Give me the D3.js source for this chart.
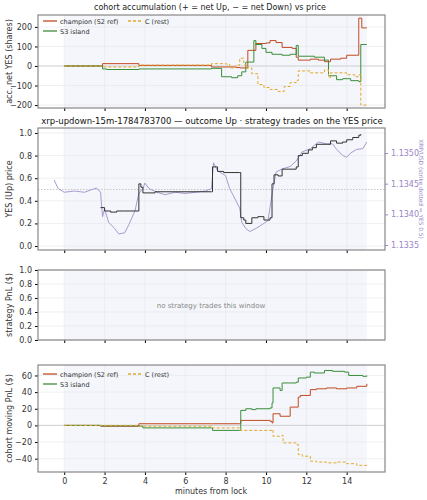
<!DOCTYPE html><html><head><meta charset="utf-8"><script src="https://cdn.jsdelivr.net/npm/d3@7"></script>
<style>body{margin:0;background:#fff}text{font-family:"DejaVu Sans",sans-serif}</style></head><body><svg id="c" width="427" height="500"></svg><script>
const xTicks=[0,2,4,6,8,10,12,14];
const accChampion=[[0,0],[1.9,12],[3.7,3],[7.3,-5],[8.5,-8],[8.7,-10],[9.1,80],[9.5,115],[10.0,118],[10.2,130],[10.5,120],[10.8,95],[11.3,90],[11.5,45],[11.6,30],[12.2,35],[12.6,30],[12.9,22],[13.2,35],[13.7,40],[14.0,55],[14.5,55],[14.6,245],[14.75,195],[15.0,195]];
const accS3=[[0,0],[1.9,-15],[2.1,-18],[3.7,-15],[7.3,-12],[7.8,-55],[8.3,-60],[8.6,-50],[8.8,-30],[9.0,20],[9.2,20],[9.4,130],[9.5,110],[9.8,90],[10.0,70],[10.3,60],[10.8,55],[11.2,60],[11.5,105],[11.6,50],[12.4,45],[12.9,30],[13.1,-50],[13.5,-70],[13.8,-65],[14.2,-75],[14.6,-80],[14.7,110],[15.0,110]];
const accC=[[0,0],[1.9,-5],[3.7,5],[7.3,12],[8.0,10],[8.2,-10],[8.5,5],[8.7,40],[8.9,5],[9.0,-10],[9.3,-40],[9.6,-95],[9.9,-110],[10.2,-120],[10.6,-130],[10.9,-105],[11.2,-85],[11.5,-75],[11.6,-25],[12.2,-35],[12.9,-20],[13.1,-60],[13.2,-35],[14.0,-45],[14.4,-55],[14.6,-45],[14.7,-200],[15.0,-200]];
const yesPrice=[[1.8,0.34],[2.0,0.31],[2.3,0.30],[2.6,0.31],[3.0,0.31],[3.7,0.55],[3.8,0.52],[3.9,0.47],[4.5,0.48],[7.3,0.48],[7.35,0.70],[7.6,0.66],[7.9,0.65],[8.7,0.65],[8.75,0.25],[8.9,0.23],[9.0,0.20],[9.3,0.25],[9.6,0.26],[9.9,0.23],[10.1,0.23],[10.2,0.25],[10.3,0.55],[10.4,0.63],[10.6,0.62],[10.8,0.68],[11.1,0.68],[11.5,0.70],[11.6,0.80],[11.8,0.82],[12.1,0.85],[12.3,0.87],[12.5,0.90],[13.0,0.90],[13.2,0.93],[13.5,0.91],[13.8,0.92],[14.0,0.94],[14.3,0.96],[14.6,0.98],[14.7,0.99]];
const xrpPrice=[[-0.5,1.13456],[-0.3,1.13442],[0,1.13436],[0.5,1.13438],[1.0,1.13436],[1.6,1.13443],[1.8,1.13436],[1.9,1.13396],[2.0,1.13409],[2.2,1.13387],[2.5,1.13377],[2.7,1.13368],[3.0,1.13370],[3.2,1.13383],[3.5,1.13405],[3.7,1.13434],[3.9,1.13442],[4.0,1.13451],[4.2,1.13442],[4.6,1.13436],[5.0,1.13432],[5.5,1.13436],[6.0,1.13434],[6.5,1.13436],[7.0,1.13438],[7.3,1.13442],[7.4,1.13484],[7.6,1.13471],[8.0,1.13463],[8.2,1.13442],[8.5,1.13423],[8.7,1.13410],[8.8,1.13387],[9.0,1.13377],[9.2,1.13372],[9.5,1.13377],[9.8,1.13383],[10.1,1.13390],[10.3,1.13432],[10.5,1.13469],[10.8,1.13474],[11.2,1.13478],[11.5,1.13487],[11.8,1.13502],[12.2,1.13507],[12.6,1.13518],[13.0,1.13515],[13.3,1.13515],[13.5,1.13506],[13.8,1.13496],[14.0,1.13493],[14.2,1.13500],[14.5,1.13506],[14.8,1.13507],[15.0,1.13518]];
const pnlChampion=[[0,0],[1.8,-1],[3.7,2],[7.3,2],[8.7,2],[8.75,6],[10.2,5],[10.3,3],[10.35,14],[10.7,11],[11.2,22],[11.6,34],[11.7,36],[12.2,43],[12.5,44],[13.0,45],[13.5,44],[14.0,45],[14.5,47],[15.0,50]];
const pnlS3=[[0,0],[1.8,-0.5],[3.7,-1],[3.9,-3],[7.3,-3],[7.35,-6],[8.7,-6],[8.75,18],[9.0,20],[9.3,19],[9.5,20],[10.0,20],[10.2,21],[10.3,27],[10.35,45],[10.7,42],[10.8,51],[11.5,52],[11.6,57],[12.0,58],[12.2,64],[12.4,63],[12.9,66],[13.3,65],[13.9,64],[14.1,60],[14.8,59],[15.0,60]];
const pnlC=[[0,0],[1.8,0],[3.7,-1],[7.3,-3],[8.75,-6],[10.3,-5],[10.35,-13],[10.8,-12],[10.85,-21],[11.5,-23],[11.6,-35],[11.8,-37],[12.2,-43],[12.5,-44],[13.0,-45],[13.5,-44],[14.0,-46],[14.5,-48],[15.0,-49]];
const COL={ch:"#c24a22",s3:"#3a8e3a",c:"#e3a82c",yes:"#333",xrp:"#a99ad0"};
const svg=d3.select("#c");
const x=d3.scaleLinear().domain([-1.3,15.9]).range([38,385]);
function panel(top,bot,dom,ticks,fmt,label,opts={}){
  const y=d3.scaleLinear().domain(dom).range([bot,top]);
  const g=svg.append("g");
  g.append("rect").attr("x",x(0)).attr("width",x(15)-x(0)).attr("y",top).attr("height",bot-top).attr("fill","#f4f6fb");
  xTicks.forEach(t=>g.append("line").attr("x1",x(t)).attr("x2",x(t)).attr("y1",top).attr("y2",bot).attr("stroke","#e4e6ea").attr("stroke-width",0.6));
  ticks.forEach(t=>g.append("line").attr("x1",38).attr("x2",385).attr("y1",y(t)).attr("y2",y(t)).attr("stroke","#e4e6ea").attr("stroke-width",0.6));
  if(opts.zero) g.append("line").attr("x1",38).attr("x2",385).attr("y1",y(0)).attr("y2",y(0)).attr("stroke","#ccc").attr("stroke-width",0.8);
  const ya=g.append("g").attr("transform","translate(38,0)").call(d3.axisLeft(y).tickValues(ticks).tickFormat(fmt).tickSize(3));
  ya.select(".domain").remove();ya.selectAll("text").attr("font-size",8).attr("fill","#333");
  const xa=g.append("g").attr("transform",`translate(0,${bot})`).call(d3.axisBottom(x).tickValues(xTicks).tickSize(3).tickFormat(opts.xlab?d3.format("d"):""));
  xa.select(".domain").remove();xa.selectAll("text").attr("font-size",8).attr("fill","#333");
  g.append("text").attr("transform",`translate(12,${(top+bot)/2}) rotate(-90)`).attr("text-anchor","middle").attr("font-size",8).attr("fill","#333").text(label);
  return {y,g,frame:()=>svg.append("rect").attr("x",38).attr("y",top).attr("width",347).attr("height",bot-top).attr("fill","none").attr("stroke","#888").attr("stroke-width",1.2)};
}
const fmtM=d=>d3.format("d")(d).replace("-","\u2212");
const step=y=>d3.line().x(d=>x(d[0])).y(d=>y(d[1])).curve(d3.curveStepAfter);
function legend(top){
  const L=[["champion (S2 ref)",COL.ch,null,43,top],["S3 island",COL.s3,null,43,top+10],["C (rest)",COL.c,"3,2",128,top]];
  L.forEach(([t,c,da,lx,ly])=>{svg.append("line").attr("x1",lx).attr("x2",lx+14).attr("y1",ly).attr("y2",ly).attr("stroke",c).attr("stroke-width",1.3).attr("stroke-dasharray",da);
    svg.append("text").attr("x",lx+17).attr("y",ly+2.5).attr("font-size",6.5).attr("fill","#333").text(t);});
}
// panel 1
svg.append("text").attr("x",210).attr("y",10).attr("text-anchor","middle").attr("font-size",8).attr("fill","#222").text("cohort accumulation (+ = net Up, \u2212 = net Down) vs price");
let p=panel(15,108,[-215,261],[-200,-100,0,100,200],fmtM,"acc. net YES (shares)",{zero:true});
[[accChampion,COL.ch,null],[accS3,COL.s3,null],[accC,COL.c,"3,2"]].forEach(([d,c,da])=>svg.append("path").attr("d",step(p.y)(d)).attr("fill","none").attr("stroke",c).attr("stroke-width",1).attr("stroke-dasharray",da));
p.frame();legend(21);
// panel 2
svg.append("text").attr("x",212).attr("y",124).attr("text-anchor","middle").attr("font-size",8.5).attr("fill","#111").text("xrp-updown-15m-1784783700 \u2014 outcome Up \u00b7 strategy trades on the YES price");
p=panel(128,250,[-0.035,1.044],[0,0.2,0.4,0.6,0.8,1.0],d3.format(".1f"),"YES (Up) price");
const yr=d3.scaleLinear().domain([1.1335,1.1350]).range([245,153]);
svg.append("line").attr("x1",38).attr("x2",385).attr("y1",p.y(0.5)).attr("y2",p.y(0.5)).attr("stroke","#bbb").attr("stroke-dasharray","1.5,1.5").attr("stroke-width",0.8);
svg.append("path").attr("d",d3.line().x(d=>x(d[0])).y(d=>yr(d[1]))(xrpPrice)).attr("fill","none").attr("stroke",COL.xrp).attr("stroke-width",1);
svg.append("path").attr("d",step(p.y)(yesPrice)).attr("fill","none").attr("stroke",COL.yes).attr("stroke-width",1);
p.frame();
const ra=svg.append("g").attr("transform","translate(385,0)").call(d3.axisRight(yr).tickValues([1.1335,1.1340,1.1345,1.1350]).tickFormat(d3.format(".4f")).tickSize(3));
ra.select(".domain").remove();ra.selectAll("text").attr("font-size",8).attr("fill","#9a86c6");ra.selectAll("line").attr("stroke","#9a86c6");
svg.append("text").attr("transform","translate(419,189) rotate(90)").attr("text-anchor","middle").attr("font-size",5.8).attr("fill","#9a86c6").text("XRP/USD (strike dotted = YES 0.5)");
// panel 3
p=panel(270,340,[0,1],[0,0.2,0.4,0.6,0.8,1.0],d3.format(".1f"),"strategy PnL ($)");
svg.append("text").attr("x",211).attr("y",308).attr("text-anchor","middle").attr("font-size",7).attr("fill","#888").text("no strategy trades this window");
p.frame();
// panel 4
p=panel(365,472,[-56,72.6],[-40,-20,0,20,40,60],fmtM,"cohort moving PnL ($)",{zero:true,xlab:true});
[[pnlChampion,COL.ch,null],[pnlS3,COL.s3,null],[pnlC,COL.c,"3,2"]].forEach(([d,c,da])=>svg.append("path").attr("d",step(p.y)(d)).attr("fill","none").attr("stroke",c).attr("stroke-width",1).attr("stroke-dasharray",da));
p.frame();legend(374);
svg.append("text").attr("x",211).attr("y",494).attr("text-anchor","middle").attr("font-size",8).attr("fill","#333").text("minutes from lock");
</script></body></html>
